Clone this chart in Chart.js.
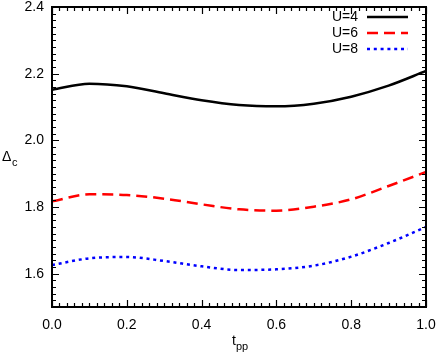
<!DOCTYPE html>
<html>
<head>
<meta charset="utf-8">
<script src="https://cdn.jsdelivr.net/npm/chart.js@4"></script>
<style>
  html, body { margin: 0; padding: 0; background: #fff; }
  #wrap { width: 436px; height: 357px; }
</style>
</head>
<body>
<div id="wrap"><canvas id="gapChart" width="436" height="357"></canvas></div>
<script>
// t_pp sample points and gap values
const tpp = [0.0, 0.1, 0.2, 0.3, 0.4, 0.5, 0.6, 0.7, 0.8, 0.9, 1.0];
const gapU4 = [2.152, 2.170, 2.162, 2.141, 2.120, 2.106, 2.102, 2.110, 2.131, 2.164, 2.208];
const gapU6 = [1.817, 1.838, 1.836, 1.825, 1.808, 1.793, 1.789, 1.801, 1.823, 1.863, 1.905];
const gapU8 = [1.626, 1.646, 1.650, 1.638, 1.622, 1.611, 1.613, 1.624, 1.651, 1.692, 1.740];
const seriesLabels = ['U=4', 'U=6', 'U=8'];

const xTicks = [0.0, 0.2, 0.4, 0.6, 0.8, 1.0];
const yTicks = [1.6, 1.8, 2.0, 2.2, 2.4];

const FONT = 'Liberation Sans, Arial, sans-serif';

function toPoints(ys) {
    return tpp.map((x, i) => ({ x: x, y: ys[i] }));
}

// gnuplot style frame with inward ticks on all four sides, legend, axis titles
const framePlugin = {
    id: 'frame',
    afterDatasetsDraw(chart) {
        const ctx = chart.ctx;
        const xs = chart.scales.x, ys = chart.scales.y;
        const L = xs.left, R = xs.right, T = ys.top, B = ys.bottom;
        ctx.save();
        ctx.setLineDash([]);
        ctx.strokeStyle = '#000000';
        ctx.lineWidth = 1.2;

        // minor + major ticks, every 0.02
        for (let i = 0; i <= 50; i++) {
            const px = Math.round(xs.getPixelForValue(i * 0.02)) + 0.5;
            const len = (i % 10 === 0) ? 7 : 4;
            ctx.beginPath();
            ctx.moveTo(px, B); ctx.lineTo(px, B - len);
            ctx.moveTo(px, T); ctx.lineTo(px, T + len);
            ctx.stroke();
        }
        for (let i = 0; i <= 45; i++) {
            const py = Math.round(ys.getPixelForValue(1.5 + i * 0.02)) + 0.5;
            const len = (i % 10 === 5) ? 7 : 4;
            ctx.beginPath();
            ctx.moveTo(L, py); ctx.lineTo(L + len, py);
            ctx.moveTo(R, py); ctx.lineTo(R - len, py);
            ctx.stroke();
        }

        // frame
        ctx.lineWidth = 2;
        ctx.beginPath();
        ctx.moveTo(L, T); ctx.lineTo(R, T); ctx.lineTo(R, B); ctx.lineTo(L, B);
        ctx.closePath();
        ctx.stroke();

        // legend
        ctx.font = '14px ' + FONT;
        ctx.textAlign = 'right';
        ctx.textBaseline = 'middle';
        chart.data.datasets.forEach((ds, i) => {
            const y = 17 + i * 16;
            ctx.fillStyle = '#000';
            ctx.fillText(ds.label, 358, y);
            ctx.strokeStyle = ds.borderColor;
            ctx.lineWidth = ds.borderWidth;
            ctx.setLineDash(ds.borderDash || []);
            ctx.beginPath();
            ctx.moveTo(367, y); ctx.lineTo(408, y);
            ctx.stroke();
        });
        ctx.setLineDash([]);

        // axis titles with subscripts
        ctx.fillStyle = '#000';
        ctx.textAlign = 'left';
        ctx.textBaseline = 'alphabetic';
        ctx.font = '14px ' + FONT;
        ctx.fillText('\u0394', 2, 161);
        ctx.font = '11px ' + FONT;
        ctx.fillText('c', 12, 166);

        ctx.font = '14px ' + FONT;
        const cx = (L + R) / 2 - 7;
        ctx.fillText('t', cx, 345);
        ctx.font = '11px ' + FONT;
        ctx.fillText('pp', cx + 4, 350);
        ctx.restore();
    }
};

new Chart(document.getElementById('gapChart'), {
    type: 'line',
    data: {
        datasets: [{
            label: seriesLabels[0],
            data: toPoints(gapU4),
            borderColor: '#000000',
            borderWidth: 2.5
        }, {
            label: seriesLabels[1],
            data: toPoints(gapU6),
            borderColor: '#ff0000',
            borderWidth: 2.5,
            borderDash: [11, 6]
        }, {
            label: seriesLabels[2],
            data: toPoints(gapU8),
            borderColor: '#0000ff',
            borderWidth: 2.5,
            borderDash: [3, 3.8]
        }]
    },
    options: {
        responsive: false,
        animation: false,
        events: [],
        layout: { padding: { left: 0, right: 10, top: 7, bottom: 0 } },
        elements: {
            point: { radius: 0 },
            line: { cubicInterpolationMode: 'monotone', fill: false }
        },
        plugins: {
            legend: { display: false },
            tooltip: { enabled: false }
        },
        scales: {
            x: {
                type: 'linear',
                min: 0,
                max: 1,
                afterBuildTicks: s => { s.ticks = xTicks.map(v => ({ value: v })); },
                afterFit: s => { s.height = 50; s.paddingLeft = 0; s.paddingRight = 0; },
                grid: { display: false, drawTicks: false },
                border: { display: true, color: '#000000', width: 1.5 },
                ticks: {
                    color: '#000',
                    font: { family: FONT, size: 14 },
                    padding: 10,
                    maxRotation: 0,
                    callback: v => v.toFixed(1)
                }
            },
            y: {
                type: 'linear',
                min: 1.5,
                max: 2.4,
                afterBuildTicks: s => { s.ticks = yTicks.map(v => ({ value: v })); },
                afterFit: s => { s.width = 52; s.paddingTop = 0; s.paddingBottom = 0; },
                grid: { display: false, drawTicks: false },
                border: { display: true, color: '#000000', width: 1.5 },
                ticks: {
                    color: '#000',
                    font: { family: FONT, size: 14 },
                    padding: 8,
                    callback: v => v.toFixed(1)
                }
            }
        }
    },
    plugins: [framePlugin]
});
</script>
</body>
</html>
